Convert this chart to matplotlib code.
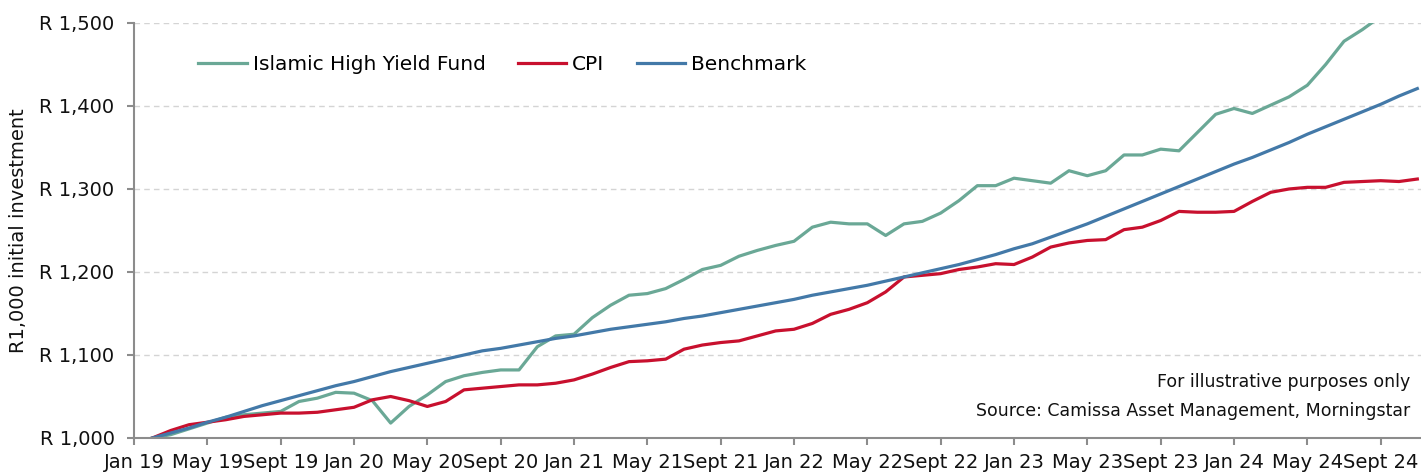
import numpy as np
import matplotlib
matplotlib.use("Agg")
import matplotlib.pyplot as plt

# --- data (month-end values of R1,000 invested in Jan 2019) ---
fund = [1000, 1004, 1011, 1018, 1025, 1028, 1030, 1032, 1044, 1048,
        1055, 1054, 1045, 1018, 1038, 1052, 1068, 1075, 1079, 1082,
        1082, 1110, 1123, 1125, 1145, 1160, 1172, 1174, 1180, 1191,
        1203, 1208, 1219, 1226, 1232, 1237, 1254, 1260, 1258, 1258,
        1244, 1258, 1261, 1271, 1286, 1304, 1304, 1313, 1310, 1307,
        1322, 1316, 1322, 1341, 1341, 1348, 1346, 1368, 1390, 1397,
        1391, 1401, 1411, 1425, 1450, 1478, 1492, 1508, 1520, 1535]

cpi = [1000, 1009, 1016, 1019, 1022, 1026, 1028, 1030, 1030, 1031,
       1034, 1037, 1046, 1050, 1045, 1038, 1044, 1058, 1060, 1062,
       1064, 1064, 1066, 1070, 1077, 1085, 1092, 1093, 1095, 1107,
       1112, 1115, 1117, 1123, 1129, 1131, 1138, 1149, 1155, 1163,
       1176, 1194, 1196, 1198, 1203, 1206, 1210, 1209, 1218, 1230,
       1235, 1238, 1239, 1251, 1254, 1262, 1273, 1272, 1272, 1273,
       1285, 1296, 1300, 1302, 1302, 1308, 1309, 1310, 1309, 1312]

benchmark = [1000, 1006, 1012, 1019, 1025, 1032, 1039, 1045, 1051, 1057,
             1063, 1068, 1074, 1080, 1085, 1090, 1095, 1100, 1105, 1108,
             1112, 1116, 1120, 1123, 1127, 1131, 1134, 1137, 1140, 1144,
             1147, 1151, 1155, 1159, 1163, 1167, 1172, 1176, 1180, 1184,
             1189, 1194, 1199, 1204, 1209, 1215, 1221, 1228, 1234, 1242,
             1250, 1258, 1267, 1276, 1285, 1294, 1303, 1312, 1321, 1330,
             1338, 1347, 1356, 1366, 1375, 1384, 1393, 1402, 1412, 1421]

tick_labels = ["Jan 19", "May 19", "Sept 19", "Jan 20", "May 20", "Sept 20",
               "Jan 21", "May 21", "Sept 21", "Jan 22", "May 22", "Sept 22",
               "Jan 23", "May 23", "Sept 23", "Jan 24", "May 24", "Sept 24"]
y_ticks = [1000, 1100, 1200, 1300, 1400, 1500]
y_tick_labels = ["R 1,000", "R 1,100", "R 1,200", "R 1,300", "R 1,400", "R 1,500"]

# --- colours ---
GREEN = "#6aa896"
RED = "#c8102e"
BLUE = "#4379a8"
AXIS = "#8c8c8c"

fig = plt.figure(figsize=(14.21, 4.75), dpi=100)
ax = fig.add_axes([0.0943, 0.0779, 0.9057, 0.8737])

x = np.arange(1, len(fund) + 1)
ax.plot(x, fund, color=GREEN, lw=2.3, label="Islamic High Yield Fund")
ax.plot(x, cpi, color=RED, lw=2.3, label="CPI")
ax.plot(x, benchmark, color=BLUE, lw=2.3, label="Benchmark")

ax.set_xlim(0, 70.2)
ax.set_ylim(1000, 1500)

ax.set_xticks(np.arange(0, 4 * len(tick_labels), 4))
ax.set_xticklabels(tick_labels)
ax.set_yticks(y_ticks)
ax.set_yticklabels(y_tick_labels)

# dashed horizontal grid (not on the baseline)
for v in y_ticks[1:]:
    ax.axhline(v, color="#d4d4d4", lw=1.0, ls=(0, (4, 3)), zorder=0)

for s in ["top", "right"]:
    ax.spines[s].set_visible(False)
for s in ["left", "bottom"]:
    ax.spines[s].set_color(AXIS)
    ax.spines[s].set_linewidth(1.5)

ax.tick_params(axis="both", colors=AXIS, width=1.5, length=5, labelsize=14,
               labelcolor="#111111")
ax.tick_params(axis="y", pad=9)
ax.tick_params(axis="x", pad=6)

ax.set_ylabel("R1,000 initial investment", fontsize=14, color="#111111", labelpad=8)

ax.legend(loc="center left", bbox_to_anchor=(0.036, 0.9), ncol=3, frameon=False,
          fontsize=14.5, handlelength=2.4, handletextpad=0.3, columnspacing=1.6)

ax.text(0.992, 0.135, "For illustrative purposes only", transform=ax.transAxes,
        ha="right", va="center", fontsize=12.5, color="#111111")
ax.text(0.992, 0.066, "Source: Camissa Asset Management, Morningstar",
        transform=ax.transAxes, ha="right", va="center", fontsize=12.5, color="#111111")

fig.savefig("out.png", dpi=100)
